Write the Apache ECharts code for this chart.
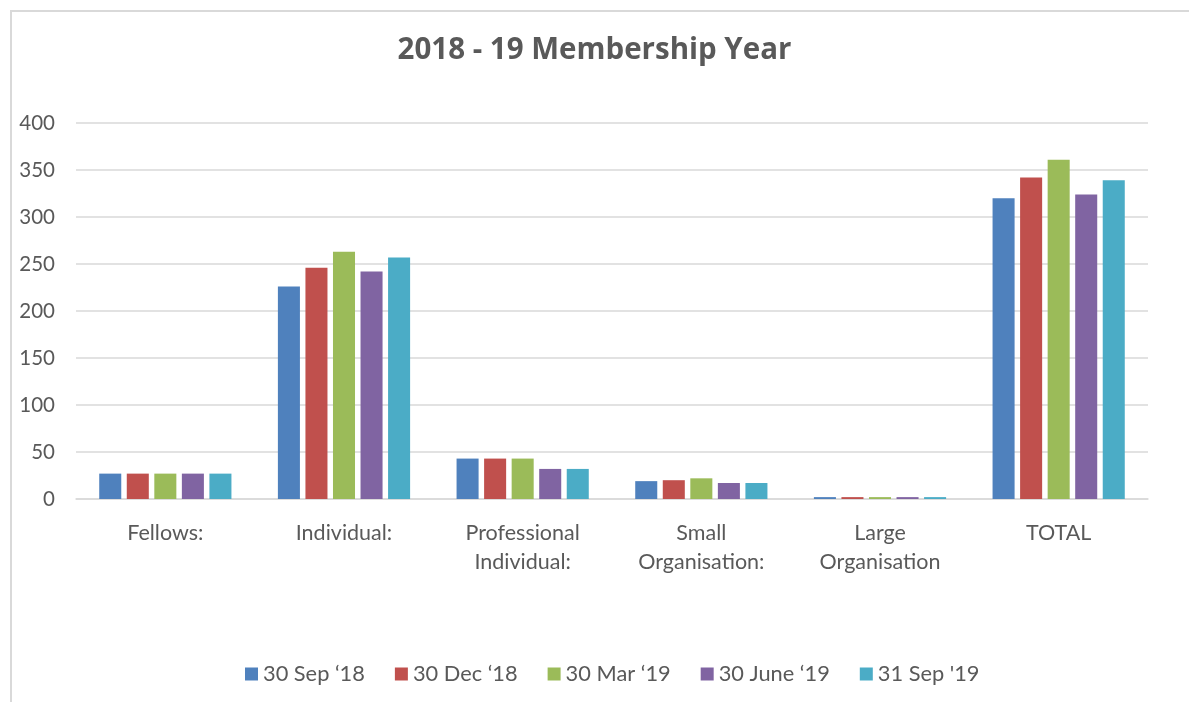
<!DOCTYPE html>
<html>
<head>
<meta charset="utf-8">
<script src="https://cdn.jsdelivr.net/npm/echarts@6/dist/echarts.min.js"></script>
<style>
html,body{margin:0;padding:0;background:#fff;overflow:hidden;}
#frame{position:absolute;left:10px;top:10px;width:1300px;height:800px;border-left:2px solid #d9d9d9;border-top:2px solid #d9d9d9;box-sizing:border-box;}
#chart{position:absolute;left:0;top:0;width:1189px;height:702px;}
</style>
</head>
<body>
<div id="frame"></div>
<div id="chart"></div>
<script>
const categories = ['Fellows:', 'Individual:', 'Professional\nIndividual:', 'Small\nOrganisation:', 'Large\nOrganisation', 'TOTAL'];
const seriesNames = ['30 Sep \u201818', '30 Dec \u201818', '30 Mar \u201819', '30 June \u201819', "31 Sep '19"];
const sep18 = [27, 226, 43, 19, 2, 320];
const dec18 = [27, 246, 43, 20, 2, 342];
const mar19 = [27, 263, 43, 22, 2, 361];
const jun19 = [27, 242, 32, 17, 2, 324];
const sep19 = [27, 257, 32, 17, 2, 339];
const colors = ['#4f81bd', '#c0504d', '#9bbb59', '#8064a2', '#4bacc6'];
const yTicks = [0, 50, 100, 150, 200, 250, 300, 350, 400];

const allData = [sep18, dec18, mar19, jun19, sep19];
const chart = echarts.init(document.getElementById('chart'));
chart.setOption({
  animation: false,
  title: {
    text: '2018 - 19 Membership Year',
    left: 'center',
    top: 31,
    textStyle: {fontFamily: 'Open Sans', fontWeight: 'bold', fontSize: 29.5, color: '#595959'}
  },
  legend: {
    bottom: 12,
    left: 240,
    itemWidth: 13,
    itemHeight: 13,
    itemGap: 30,
    itemTextGap: 4,
    icon: 'rect',
    textStyle: {fontFamily: 'Lato', fontSize: 21.8, color: '#595959'},
    data: seriesNames
  },
  grid: {left: 76, right: 41, top: 123, bottom: 203, containLabel: false},
  xAxis: {
    type: 'category',
    data: categories,
    axisLine: {show: true, lineStyle: {color: '#d9d9d9', width: 1.5}},
    axisTick: {show: false},
    axisLabel: {fontFamily: 'Lato', fontSize: 21.5, color: '#595959', margin: 20, lineHeight: 29}
  },
  yAxis: {
    type: 'value',
    min: 0, max: 400, interval: 50,
    axisLine: {show: false},
    axisTick: {show: false},
    splitLine: {lineStyle: {color: '#d9d9d9', width: 1.5}},
    axisLabel: {fontFamily: 'Lato', fontSize: 20.5, color: '#595959', margin: 21,
      formatter: v => yTicks.includes(v) ? String(v) : ''}
  },
  series: allData.map((d, i) => ({
    name: seriesNames[i],
    type: 'bar',
    data: d,
    barGap: '25%',
    barCategoryGap: '26%',
    itemStyle: {color: colors[i]}
  }))
});
</script>
</body>
</html>
